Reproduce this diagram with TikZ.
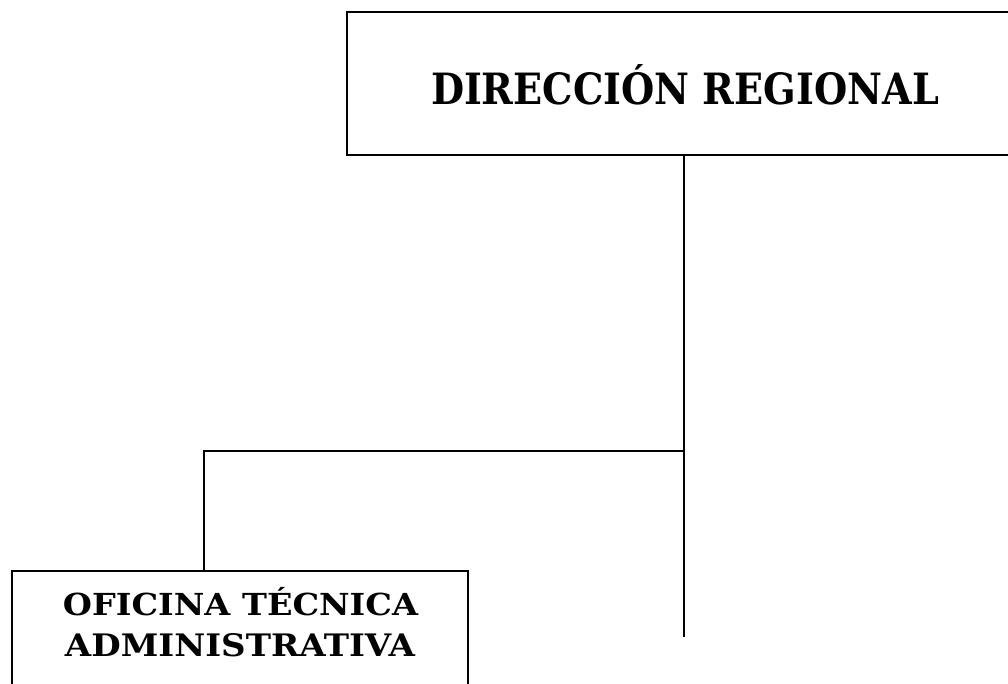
\documentclass[tikz,border=0pt]{standalone}
\usepackage{fontspec}
\setmainfont{DejaVu Serif}
\usepackage{graphicx}
\begin{document}
\begin{tikzpicture}[x=1pt,y=-1pt,
  box/.style={draw=black,line width=1.4pt,fill=none},
  conn/.style={draw=black,line width=1.4pt},
  label/.style={anchor=base,inner sep=0pt}]
\useasboundingbox (0,0) rectangle (1008,683);
\path[clip] (0,0) rectangle (1008,683);
% top box
\draw[box] (347,12) rectangle (1030,155);
\node[label] (top) at (685,104) {\resizebox{508pt}{32pt}{\bfseries DIRECCI\smash{Ó}N REGIONAL}};
% bottom box
\draw[box] (12,571) rectangle (468,700);
\node[label] (l1) at (240.5,615) {\resizebox{355pt}{22.5pt}{\bfseries OFICINA T\smash{É}CNICA}};
\node[label] (l2) at (240,656) {\resizebox{350pt}{23pt}{\bfseries ADMINISTRATIVA}};
% connectors
\coordinate (a) at (684,155);
\coordinate (b) at (684,451);
\coordinate (c) at (684,637);
\coordinate (d) at (204,451);
\coordinate (e) at (204,571);
\draw[conn] (a) -- (c);
\draw[conn,line cap=rect] (b) -- (d) -- (e);
\end{tikzpicture}
\end{document}
